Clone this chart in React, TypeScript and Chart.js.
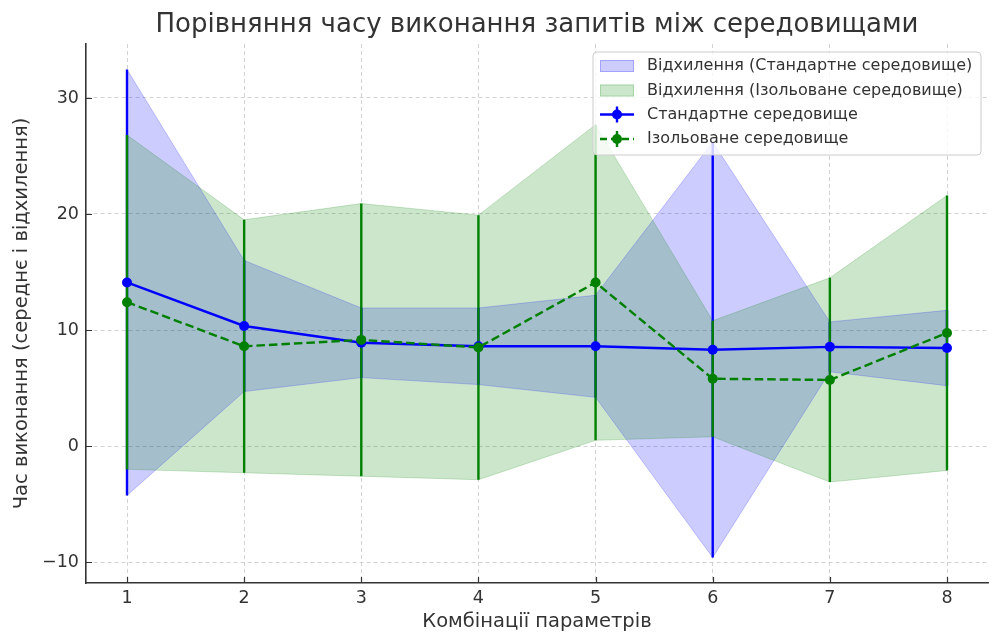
import React, { useEffect, useRef } from "react";
import { Chart, registerables } from "chart.js";

Chart.register(...registerables);

const combos = [1, 2, 3, 4, 5, 6, 7, 8];
const stdMean = [14.1, 10.35, 8.9, 8.6, 8.6, 8.3, 8.55, 8.45];
const stdDev = [18.35, 5.65, 3.0, 3.3, 4.4, 17.9, 2.15, 3.25];
const isoMean = [12.4, 8.6, 9.15, 8.5, 14.1, 5.8, 5.7, 9.75];
const isoDev = [14.4, 10.9, 11.75, 11.4, 13.6, 5.0, 8.8, 11.85];
const yTicks = [-10, 0, 10, 20, 30];
const xTicks = combos;

const titleText = "Порівняння часу виконання запитів між середовищами";
const xTitle = "Комбінації параметрів";
const yTitle = "Час виконання (середнє і відхилення)";
const legendLabels = [
  "Відхилення (Стандартне середовище)",
  "Відхилення (Ізольоване середовище)",
  "Стандартне середовище",
  "Ізольоване середовище",
];

const FONT = "'DejaVu Sans', sans-serif";
const TEXT = "#333333";
const BLUE = "#0000ff";
const GREEN = "#008000";
const BLUE_FILL = "rgba(0,0,255,0.2)";
const GREEN_FILL = "rgba(0,128,0,0.2)";
const LW = 2.4;

const pts = (vals: number[]) => combos.map((c, i) => ({ x: c, y: vals[i] }));

const errorBarPlugin = {
  id: "errbars",
  beforeDatasetsDraw(chart: any) {
    const { ctx, scales } = chart;
    const x = scales.x;
    const y = scales.y;
    const draw = (means: number[], devs: number[], color: string) => {
      ctx.save();
      ctx.strokeStyle = color;
      ctx.lineWidth = LW;
      ctx.beginPath();
      combos.forEach((c, i) => {
        const px = x.getPixelForValue(c);
        ctx.moveTo(px, y.getPixelForValue(means[i] - devs[i]));
        ctx.lineTo(px, y.getPixelForValue(means[i] + devs[i]));
      });
      ctx.stroke();
      ctx.restore();
    };
    draw(stdMean, stdDev, BLUE);
    draw(isoMean, isoDev, GREEN);
  },
};

const textPlugin = {
  id: "texts",
  afterDraw(chart: any) {
    const { ctx, chartArea, scales } = chart;
    const cx = (chartArea.left + chartArea.right) / 2;

    // inward ticks
    ctx.save();
    ctx.strokeStyle = TEXT;
    ctx.lineWidth = 1.2;
    ctx.beginPath();
    xTicks.forEach((v) => {
      const px = Math.round(scales.x.getPixelForValue(v)) + 0.5;
      ctx.moveTo(px, chartArea.bottom);
      ctx.lineTo(px, chartArea.bottom - 6);
    });
    yTicks.forEach((v) => {
      const py = Math.round(scales.y.getPixelForValue(v)) + 0.5;
      ctx.moveTo(chartArea.left, py);
      ctx.lineTo(chartArea.left + 6, py);
    });
    ctx.stroke();
    ctx.restore();

    ctx.save();
    ctx.fillStyle = TEXT;
    ctx.textAlign = "center";
    ctx.textBaseline = "middle";
    ctx.font = `26px ${FONT}`;
    ctx.fillText(titleText, cx, 25);
    ctx.font = `19.5px ${FONT}`;
    ctx.fillText(xTitle, cx, 622);
    ctx.translate(22, (chartArea.top + chartArea.bottom) / 2);
    ctx.rotate(-Math.PI / 2);
    ctx.fillText(yTitle, 0, 0);
    ctx.restore();

    // legend
    ctx.save();
    const bx = 593, by = 52, bw = 388, bh = 103;
    ctx.beginPath();
    ctx.roundRect(bx, by, bw, bh, 4);
    ctx.fillStyle = "rgba(255,255,255,0.8)";
    ctx.fill();
    ctx.strokeStyle = "#cccccc";
    ctx.lineWidth = 1;
    ctx.stroke();
    const rows = [66, 90.5, 114.5, 139];
    ctx.font = `16px ${FONT}`;
    ctx.textAlign = "left";
    ctx.textBaseline = "middle";
    const patch = (yc: number, fill: string, edge: string) => {
      ctx.fillStyle = fill;
      ctx.fillRect(600, yc - 6, 34, 12);
      ctx.strokeStyle = edge;
      ctx.lineWidth = 1;
      ctx.strokeRect(600.5, yc - 5.5, 33, 11);
    };
    patch(rows[0], BLUE_FILL, "rgba(0,0,255,0.2)");
    patch(rows[1], GREEN_FILL, "rgba(0,128,0,0.2)");
    const lineEntry = (yc: number, color: string, dash: number[]) => {
      ctx.strokeStyle = color;
      ctx.lineWidth = LW;
      ctx.setLineDash(dash);
      ctx.beginPath();
      ctx.moveTo(600, yc);
      ctx.lineTo(634, yc);
      ctx.stroke();
      ctx.setLineDash([]);
      ctx.beginPath();
      ctx.moveTo(617, yc - 8);
      ctx.lineTo(617, yc + 8);
      ctx.stroke();
      ctx.fillStyle = color;
      ctx.beginPath();
      ctx.arc(617, yc, 5, 0, Math.PI * 2);
      ctx.fill();
    };
    lineEntry(rows[2], BLUE, []);
    lineEntry(rows[3], GREEN, [7, 4]);
    ctx.fillStyle = TEXT;
    legendLabels.forEach((t, i) => ctx.fillText(t, 647, rows[i]));
    ctx.restore();
  },
};

export default function App() {
  const ref = useRef<HTMLCanvasElement | null>(null);
  useEffect(() => {
    if (!ref.current) return;
    const gridCommon = {
      color: "#c8c8c8",
      lineWidth: 0.8,
      borderDash: [4, 3],
      drawTicks: false,
    };
    const borderCommon = { display: true, color: TEXT, width: 1.6, dash: [4, 3] };
    const chart = new Chart(ref.current, {
      type: "line",
      data: {
        datasets: [
          {
            label: "iso",
            data: pts(isoMean),
            borderColor: GREEN,
            backgroundColor: GREEN,
            borderWidth: LW,
            borderDash: [8.5, 4],
            pointRadius: 5,
            pointHoverRadius: 5,
            pointBorderWidth: 0,
            fill: false,
          },
          {
            label: "std",
            data: pts(stdMean),
            borderColor: BLUE,
            backgroundColor: BLUE,
            borderWidth: LW,
            pointRadius: 5,
            pointHoverRadius: 5,
            pointBorderWidth: 0,
            fill: false,
          },
          {
            label: "isoLow",
            data: pts(isoMean.map((m, i) => m - isoDev[i])),
            borderColor: "rgba(0,128,0,0.2)",
            borderWidth: 1,
            pointRadius: 0,
            fill: false,
          },
          {
            label: "isoHigh",
            data: pts(isoMean.map((m, i) => m + isoDev[i])),
            borderColor: "rgba(0,128,0,0.2)",
            backgroundColor: GREEN_FILL,
            borderWidth: 1,
            pointRadius: 0,
            fill: "-1",
          },
          {
            label: "stdLow",
            data: pts(stdMean.map((m, i) => m - stdDev[i])),
            borderColor: "rgba(0,0,255,0.2)",
            borderWidth: 1,
            pointRadius: 0,
            fill: false,
          },
          {
            label: "stdHigh",
            data: pts(stdMean.map((m, i) => m + stdDev[i])),
            borderColor: "rgba(0,0,255,0.2)",
            backgroundColor: BLUE_FILL,
            borderWidth: 1,
            pointRadius: 0,
            fill: "-1",
          },
        ],
      },
      options: {
        animation: false,
        responsive: false,
        events: [],
        layout: { padding: { top: 44, right: 3, left: 0, bottom: 0 } },
        plugins: {
          legend: { display: false },
          title: { display: false },
          tooltip: { enabled: false },
          filler: { drawTime: "beforeDatasetsDraw" },
        },
        scales: {
          x: {
            type: "linear",
            min: 0.65,
            max: 8.35,
            afterBuildTicks: (s: any) => {
              s.ticks = xTicks.map((v) => ({ value: v }));
            },
            afterFit: (s: any) => {
              s.height = 51;
            },
            grid: gridCommon,
            border: borderCommon,
            ticks: {
              color: TEXT,
              font: { family: FONT, size: 17.5 },
              padding: 5,
              maxRotation: 0,
            },
          },
          y: {
            type: "linear",
            min: -11.8,
            max: 34.65,
            afterBuildTicks: (s: any) => {
              s.ticks = yTicks.map((v) => ({ value: v }));
            },
            afterFit: (s: any) => {
              s.width = 86;
            },
            grid: gridCommon,
            border: borderCommon,
            ticks: {
              color: TEXT,
              font: { family: FONT, size: 17.5 },
              padding: 7,
              callback: (v: any) => (v < 0 ? "\u2212" + Math.abs(v) : String(v)),
            },
          },
        },
      },
      plugins: [errorBarPlugin, textPlugin],
    } as any);
    return () => chart.destroy();
  }, []);
  return (
    <div style={{ position: "fixed", left: 0, top: 0, width: 993, height: 634, background: "#fff" }}>
      <canvas ref={ref} width={993} height={634} />
    </div>
  );
}
